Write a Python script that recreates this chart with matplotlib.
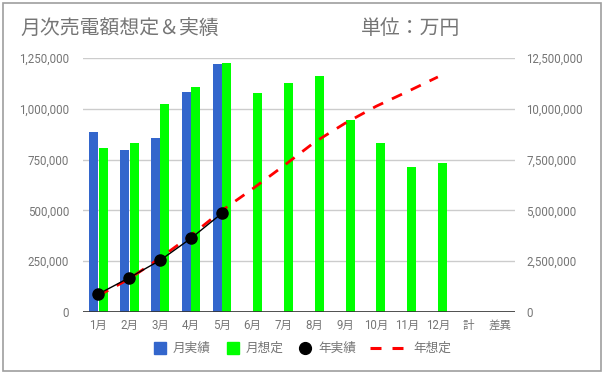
import matplotlib
matplotlib.use("Agg")
import matplotlib.pyplot as plt
from matplotlib.patches import Rectangle
from matplotlib.lines import Line2D
from matplotlib.ticker import FuncFormatter
import numpy as np

plt.rcParams['font.family'] = ['Roboto', 'Noto Sans CJK JP', 'DejaVu Sans']

categories = ['1月', '2月', '3月', '4月', '5月', '6月', '7月', '8月', '9月',
              '10月', '11月', '12月', '計', '差異']
month_actual = [884000, 797000, 855000, 1081000, 1219000]
month_plan = [805000, 830000, 1024000, 1106000, 1224000, 1076000, 1125000,
              1161000, 943000, 830000, 712000, 732000]
year_actual = [886000, 1688000, 2544000, 3627000, 4857000]
year_plan = [805000, 1635000, 2659000, 3765000, 4989000, 6065000, 7190000,
             8351000, 9294000, 10124000, 10836000, 11568000]
left_ticks = [0, 250000, 500000, 750000, 1000000, 1250000]
right_ticks = [0, 2500000, 5000000, 7500000, 10000000, 12500000]
legend_labels = ['月実績', '月想定', '年実績', '年想定']

W, H = 604, 374
fig = plt.figure(figsize=(W / 100, H / 100), dpi=100)
fig.patch.set_facecolor('white')

ax = fig.add_axes([83 / W, (H - 312) / H, 432 / W, 254 / H])
ax2 = ax.twinx()

c_blue, c_green, c_red = '#3366cc', '#00ff00', '#ff0000'
x = np.arange(len(categories))
bw = 0.29
ax.bar(x[:len(month_actual)] - 0.155, month_actual, width=bw, color=c_blue, zorder=2)
ax.bar(x[:len(month_plan)] + 0.155, month_plan, width=bw, color=c_green, zorder=2)

ax2.plot(x[:len(year_plan)], year_plan, color=c_red, lw=2, dashes=(4, 3.5), zorder=3)
ax2.plot(x[:len(year_actual)], year_actual, color='black', lw=1, marker='o',
         markersize=8, zorder=4)

ax.set_xlim(-0.5, len(categories) - 0.5)
ax.set_ylim(0, 1250000)
ax2.set_ylim(0, 12500000)
ax.set_yticks(left_ticks)
ax2.set_yticks(right_ticks)
fmt = FuncFormatter(lambda v, p: f'{int(v):,}')
ax.yaxis.set_major_formatter(fmt)
ax2.yaxis.set_major_formatter(fmt)
ax.set_xticks(x)
ax.set_xticklabels(categories)

gray = '#757575'
for a in (ax, ax2):
    for s in a.spines.values():
        s.set_visible(False)
    a.tick_params(axis='both', length=0, labelsize=8.3, labelcolor=gray)
ax.tick_params(axis='y', pad=10)
ax2.tick_params(axis='y', pad=8)
ax.tick_params(axis='x', pad=5)
ax.yaxis.grid(True, color='#cccccc', lw=1, zorder=0)
ax.set_axisbelow(True)
ax.axhline(0, color='#333333', lw=1.2, zorder=5)

fig.text(20 / W, 1 - 29 / H, '月次売電額想定＆実績', fontsize=14.3, color=gray,
         va='center', ha='left')
fig.text(361 / W, 1 - 29 / H, '単位：万円', fontsize=14.3, color=gray,
         va='center', ha='left')

# legend drawn manually to match the original layout
ly = 1 - 348 / H
def fx(px):
    return px / W
fig.add_artist(Line2D([fx(160)], [ly], marker='s', ls='none', color=c_blue,
                      markersize=8.3, transform=fig.transFigure))
fig.add_artist(Line2D([fx(232.5)], [ly], marker='s', ls='none', color=c_green,
                      markersize=8.3, transform=fig.transFigure))
fig.add_artist(Line2D([fx(304.5)], [ly], marker='o', ls='none', color='black',
                      markersize=8.5, transform=fig.transFigure))
fig.add_artist(Line2D([fx(370), fx(405)], [ly, ly], color=c_red, lw=2.2,
                      dashes=(3.6, 3.6), transform=fig.transFigure))
for px, lab in zip([173, 246, 318, 413], legend_labels):
    fig.text(fx(px), ly, lab, fontsize=9.1, color=gray, va='center', ha='left')

fig.add_artist(Rectangle((3 / W, 3 / H), (W - 6) / W, (H - 6) / H,
                         transform=fig.transFigure, fill=False,
                         edgecolor='#9e9e9e', lw=1.2))

fig.savefig('out.png', dpi=100)
